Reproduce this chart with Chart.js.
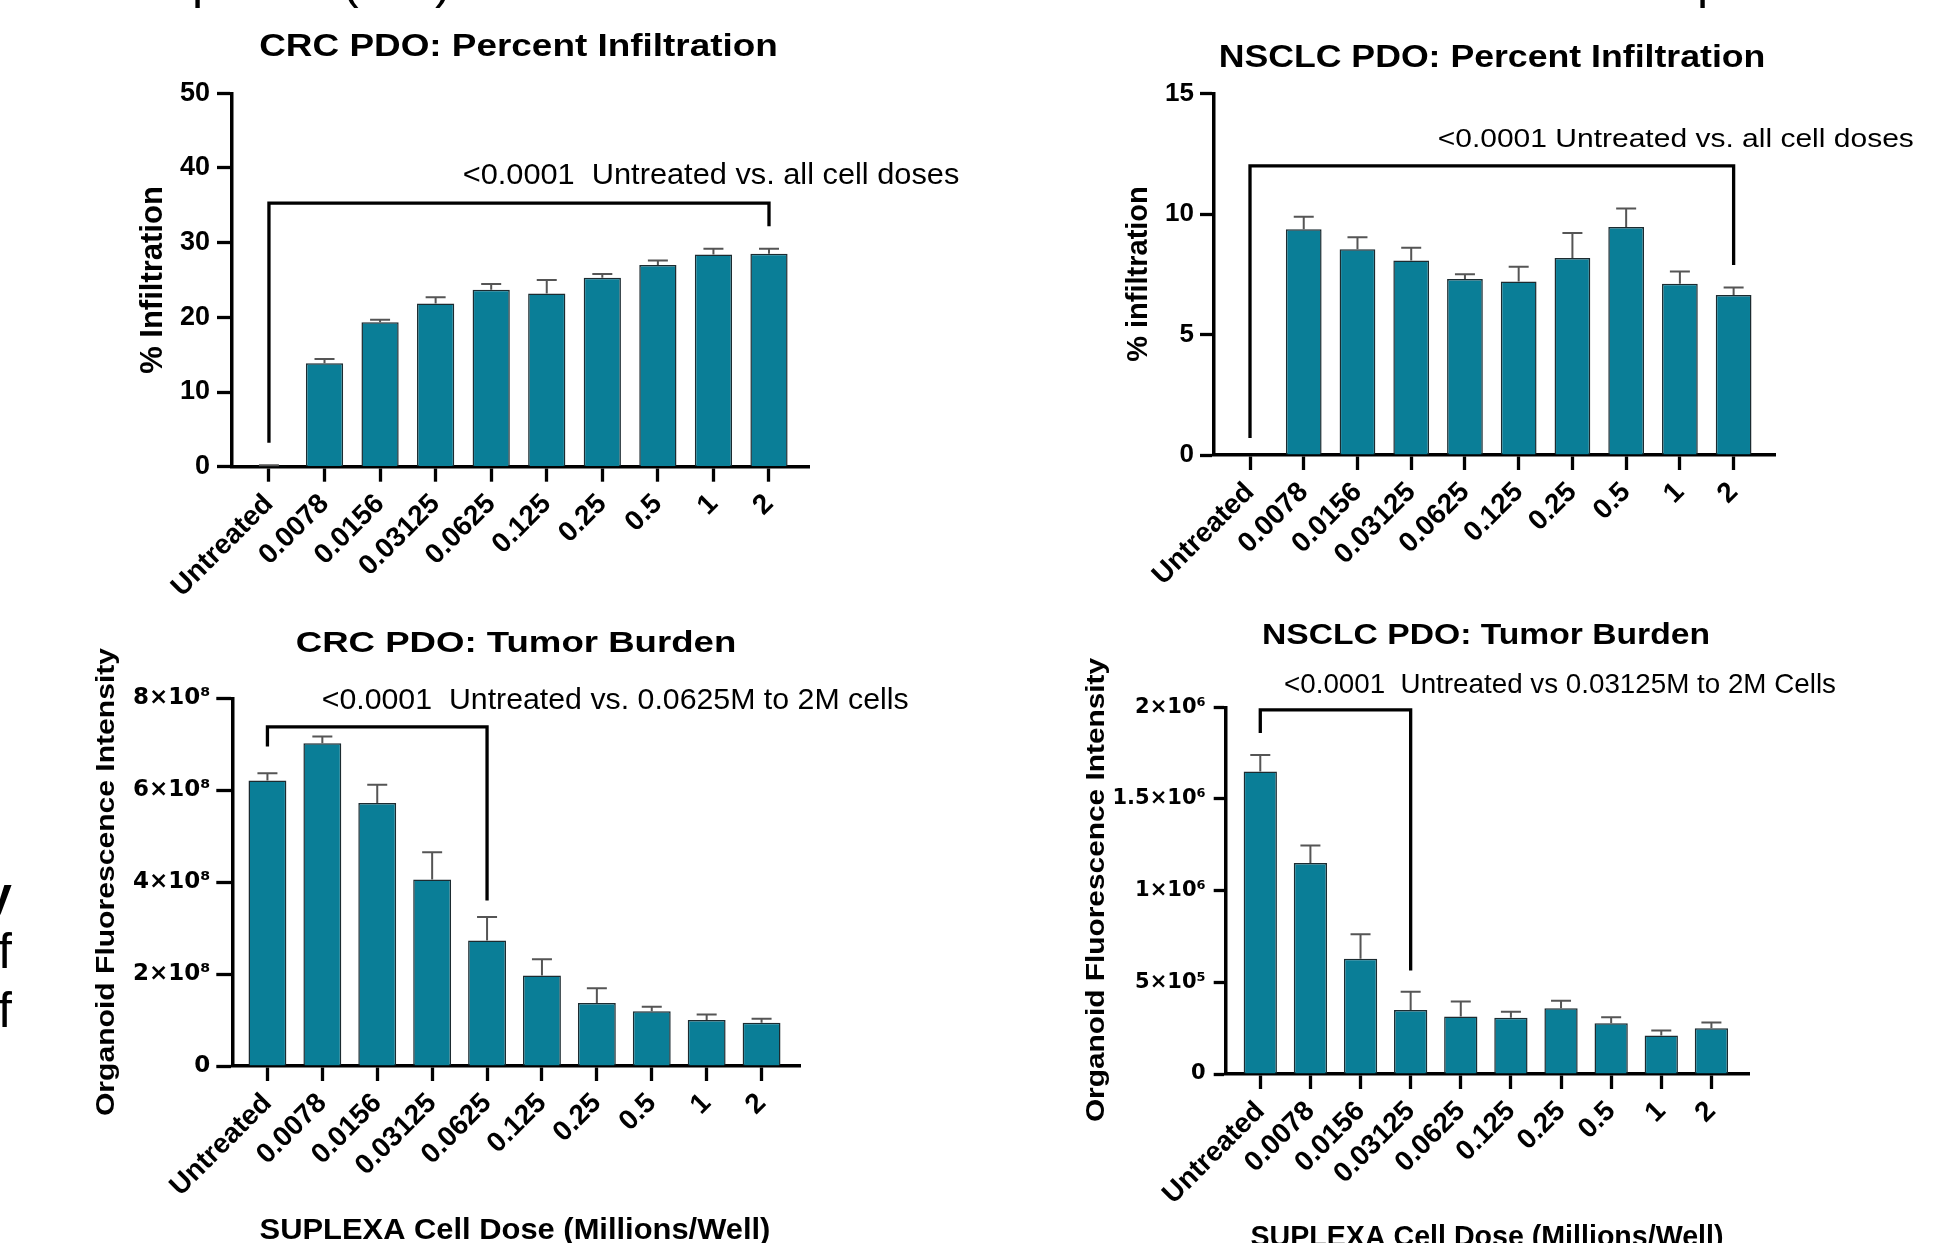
<!DOCTYPE html>
<html>
<head>
<meta charset="utf-8">
<script src="https://cdn.jsdelivr.net/npm/chart.js@4.4.1/dist/chart.umd.min.js"></script>
<style>
html,body{margin:0;padding:0;background:#fff;width:1955px;height:1243px;overflow:hidden;position:relative;}
canvas{position:absolute;left:0;top:0;}
.frag{position:absolute;font-family:"Liberation Sans",Arial,sans-serif;font-size:50px;line-height:50px;color:#000;white-space:pre;}
</style>
</head>
<body>
<div class="frag" style="left:192px;top:-44px">p</div>
<div class="frag" style="left:342px;top:-44px">(</div>
<div class="frag" style="left:435px;top:-44px">)</div>
<div class="frag" style="left:1697px;top:-44px">p</div>
<div class="frag" style="left:-16px;top:870px;font-weight:bold">y</div>
<div class="frag" style="left:-2px;top:926px">f</div>
<div class="frag" style="left:-2px;top:985px">f</div>

<canvas id="c1" width="1955" height="1243"></canvas>
<canvas id="c2" width="1955" height="1243"></canvas>
<canvas id="c3" width="1955" height="1243"></canvas>
<canvas id="c4" width="1955" height="1243"></canvas>

<script>
// ---------------- DATA ----------------
const doseLabels = ['Untreated', '0.0078', '0.0156', '0.03125', '0.0625', '0.125', '0.25', '0.5', '1', '2'];

// CRC PDO: Percent Infiltration (%)
const crcInfMean = [0.1, 13.85, 19.33, 21.85, 23.7, 23.2, 25.3, 27.0, 28.4, 28.5];
const crcInfSem  = [0.1, 0.58, 0.36, 0.85, 0.76, 1.8, 0.5, 0.6, 0.8, 0.7];
const crcInfTicks = [0, 10, 20, 30, 40, 50];

// NSCLC PDO: Percent Infiltration (%)
const nscInfMean = [0, 9.37, 8.54, 8.07, 7.30, 7.20, 8.17, 9.46, 7.11, 6.64];
const nscInfSem  = [0, 0.52, 0.50, 0.53, 0.20, 0.61, 1.04, 0.77, 0.50, 0.31];
const nscInfTicks = [0, 5, 10, 15];

// CRC PDO: Tumor Burden (organoid fluorescence intensity)
const crcTbMean = [6.21e8, 7.02e8, 5.72e8, 4.06e8, 2.73e8, 1.97e8, 1.37e8, 1.19e8, 1.00e8, 0.94e8];
const crcTbSem  = [0.16e8, 0.15e8, 0.40e8, 0.59e8, 0.51e8, 0.35e8, 0.32e8, 0.10e8, 0.12e8, 0.09e8];
const crcTbTicks = [0, 2e8, 4e8, 6e8, 8e8];

// NSCLC PDO: Tumor Burden
const nscTbMean = [1.65e6, 1.151e6, 6.29e5, 3.49e5, 3.13e5, 3.07e5, 3.59e5, 2.77e5, 2.10e5, 2.50e5];
const nscTbSem  = [0.90e5, 0.95e5, 1.33e5, 1.00e5, 0.82e5, 0.33e5, 0.41e5, 0.33e5, 0.27e5, 0.31e5];
const nscTbTicks = [0, 5e5, 1e6, 1.5e6, 2e6];

// significance brackets (category index and value positions)
const crcInfBracket = {from: 0, to: 9, top: 35.3, leftEnd: 3.2, rightEnd: 32.2};
const nscInfBracket = {from: 0, to: 9, top: 12.0, leftEnd: 0.71, rightEnd: 7.88};
const crcTbBracket  = {from: 0, to: 4, top: 7.38e8, leftEnd: 6.95e8, rightEnd: 3.6e8};
const nscTbBracket  = {from: 0, to: 3, top: 1.986e6, leftEnd: 1.86e6, rightEnd: 5.64e5};

// ---------------- STYLE ----------------
const BAR_FILL = '#0a7e97';
const BAR_EDGE = '#1c2b30';
const ERR_COL = '#555555';
const LS = '"Liberation Sans", Arial, sans-serif';
const DJ = '"DejaVu Sans", sans-serif';

function sci(v, exp) {
  if (v === 0) return '0';
  const sup = {'0':'⁰','1':'¹','2':'²','3':'³','4':'⁴','5':'⁵','6':'⁶','7':'⁷','8':'⁸','9':'⁹'};
  let m = v / Math.pow(10, exp);
  let e = exp;
  if (m < 1) { m = m * 10; e = exp - 1; }
  m = Math.round(m * 100) / 100;
  return m + '×10' + String(e).split('').map(c => sup[c]).join('');
}

const extrasPlugin = {
  id: 'extras',
  afterDatasetsDraw(chart) {
    const cfg = chart.options.plugins.extras;
    const ctx = chart.ctx;
    const xs = chart.scales.x, ys = chart.scales.y;
    const meta = chart.getDatasetMeta(0);
    ctx.save();
    // error bars (upper only)
    ctx.strokeStyle = ERR_COL;
    ctx.lineWidth = 2;
    ctx.lineCap = 'butt';
    meta.data.forEach((bar, i) => {
      const s = cfg.sem[i];
      if (!s) return;
      const yTop = ys.getPixelForValue(cfg.mean[i] + s);
      ctx.beginPath();
      ctx.moveTo(bar.x, bar.y);
      ctx.lineTo(bar.x, yTop);
      ctx.moveTo(bar.x - cfg.cap / 2, yTop);
      ctx.lineTo(bar.x + cfg.cap / 2, yTop);
      ctx.stroke();
    });
    // bracket
    const b = cfg.bracket;
    const x0 = xs.getPixelForValue(b.from), x1 = xs.getPixelForValue(b.to);
    const yt = ys.getPixelForValue(b.top);
    ctx.strokeStyle = '#000';
    ctx.lineWidth = 3.3;
    ctx.lineJoin = 'miter';
    ctx.beginPath();
    ctx.moveTo(x0, ys.getPixelForValue(b.leftEnd));
    ctx.lineTo(x0, yt);
    ctx.lineTo(x1, yt);
    ctx.lineTo(x1, ys.getPixelForValue(b.rightEnd));
    ctx.stroke();
    // texts
    cfg.texts.forEach(t => {
      ctx.save();
      ctx.font = t.font;
      ctx.fillStyle = '#000';
      ctx.textAlign = t.align || 'left';
      ctx.textBaseline = 'alphabetic';
      ctx.translate(t.x, t.y);
      if (t.rot) ctx.rotate(t.rot);
      ctx.scale(t.sx || 1, 1);
      ctx.fillText(t.text, 0, 0);
      ctx.restore();
    });
    ctx.restore();
  }
};

function makeChart(id, o) {
  const data = doseLabels.map((_, i) => ({x: i, y: o.mean[i]}));
  return new Chart(document.getElementById(id), {
    type: 'bar',
    data: {
      datasets: [{
        data: data,
        backgroundColor: BAR_FILL,
        borderColor: BAR_EDGE,
        borderWidth: 1.5,
        categoryPercentage: 1,
        barPercentage: o.barPct
      }]
    },
    options: {
      responsive: false,
      animation: false,
      devicePixelRatio: 1,
      layout: {padding: o.padding},
      plugins: {
        legend: {display: false},
        tooltip: {enabled: false},
        extras: {mean: o.mean, sem: o.sem, bracket: o.bracket, cap: 20, texts: o.texts}
      },
      scales: {
        x: {
          type: 'linear',
          min: o.xmin, max: o.xmax,
          offset: false,
          bounds: 'data',
          afterBuildTicks(s) { s.ticks = doseLabels.map((_, i) => ({value: i})); },
          afterFit(s) { s.height = 140; },
          ticks: {
            autoSkip: false, minRotation: 45, maxRotation: 45, padding: 6,
            color: '#000',
            font: {family: LS, weight: 'bold', size: 28},
            callback: v => doseLabels[v]
          },
          grid: {display: true, drawOnChartArea: false, drawTicks: true, offset: false,
                 tickLength: 15, tickWidth: 3.3, tickColor: '#000'},
          border: {display: true, width: 3.5, color: '#000'}
        },
        y: {
          min: 0, max: o.yTicks[o.yTicks.length - 1],
          afterBuildTicks(s) { s.ticks = o.yTicks.map(v => ({value: v})); },
          afterFit(s) { s.width = 150; },
          ticks: {
            padding: o.yPad,
            color: '#000',
            font: o.yFont,
            callback: o.yFmt
          },
          grid: {display: true, drawOnChartArea: false, drawTicks: true,
                 tickLength: o.yTick, tickWidth: 3.3, tickColor: '#000'},
          border: {display: true, width: 3.5, color: '#000'}
        }
      }
    },
    plugins: [extrasPlugin]
  });
}

const W = 1955, H = 1243, XH = 140, YW = 150;
function pad(L, T, R, B) {
  return {left: L - YW, top: T, right: W - R, bottom: H - B - XH};
}

// Chart 1: CRC Percent Infiltration
makeChart('c1', {
  mean: crcInfMean, sem: crcInfSem, bracket: crcInfBracket, barPct: 0.67,
  xmin: -0.665, xmax: 9.72, yTicks: crcInfTicks,
  padding: pad(232, 93.3, 809, 466.7),
  yPad: 7, yTick: 15,
  yFont: {family: LS, weight: 'bold', size: 27},
  yFmt: v => String(v),
  texts: [
    {text: 'CRC PDO: Percent Infiltration', x: 518.5, y: 56, align: 'center', font: `bold 31px ${LS}`, sx: 1.19},
    {text: '<0.0001  Untreated vs. all cell doses', x: 462.7, y: 184, font: `30px ${LS}`, sx: 1.025},
    {text: '% Infiltration', x: 161.5, y: 280, align: 'center', rot: -Math.PI / 2, font: `bold 31px ${LS}`}
  ]
});

// Chart 2: NSCLC Percent Infiltration
makeChart('c2', {
  mean: nscInfMean, sem: nscInfSem, bracket: nscInfBracket, barPct: 0.665,
  xmin: -0.67, xmax: 9.77, yTicks: nscInfTicks,
  padding: pad(1214, 93.5, 1775, 455),
  yPad: 6, yTick: 14,
  yFont: {family: LS, weight: 'bold', size: 26},
  yFmt: v => String(v),
  texts: [
    {text: 'NSCLC PDO: Percent Infiltration', x: 1492, y: 66.5, align: 'center', font: `bold 31px ${LS}`, sx: 1.15},
    {text: '<0.0001 Untreated vs. all cell doses', x: 1437.7, y: 147, font: `25px ${LS}`, sx: 1.2},
    {text: '% infiltration', x: 1146.5, y: 274, align: 'center', rot: -Math.PI / 2, font: `bold 29px ${LS}`}
  ]
});

// Chart 3: CRC Tumor Burden
makeChart('c3', {
  mean: crcTbMean, sem: crcTbSem, bracket: crcTbBracket, barPct: 0.69,
  xmin: -0.64, xmax: 9.70, yTicks: crcTbTicks,
  padding: pad(232.3, 698.3, 800, 1066),
  yPad: 6, yTick: 16,
  yFont: {family: DJ, weight: 'bold', size: 23},
  yFmt: v => sci(v, 8),
  texts: [
    {text: 'CRC PDO: Tumor Burden', x: 516, y: 651.7, align: 'center', font: `bold 30px ${LS}`, sx: 1.22},
    {text: '<0.0001  Untreated vs. 0.0625M to 2M cells', x: 321.7, y: 709.3, font: `30px ${LS}`, sx: 1.01},
    {text: 'Organoid Fluorescence Intensity', x: 113.5, y: 882, align: 'center', rot: -Math.PI / 2, font: `bold 25.5px ${LS}`, sx: 1.18},
    {text: 'SUPLEXA Cell Dose (Millions/Well)', x: 515, y: 1239, align: 'center', font: `bold 28.6px ${LS}`, sx: 1.08}
  ]
});

// Chart 4: NSCLC Tumor Burden
makeChart('c4', {
  mean: nscTbMean, sem: nscTbSem, bracket: nscTbBracket, barPct: 0.664,
  xmin: -0.69, xmax: 9.75, yTicks: nscTbTicks,
  padding: pad(1225.7, 707.3, 1749, 1074),
  yPad: 8, yTick: 12,
  yFont: {family: DJ, weight: 'bold', size: 21},
  yFmt: v => sci(v, 6),
  texts: [
    {text: 'NSCLC PDO: Tumor Burden', x: 1486, y: 644, align: 'center', font: `bold 29px ${LS}`, sx: 1.16},
    {text: '<0.0001  Untreated vs 0.03125M to 2M Cells', x: 1284, y: 692.7, font: `27.5px ${LS}`, sx: 1.01},
    {text: 'Organoid Fluorescence Intensity', x: 1104, y: 890, align: 'center', rot: -Math.PI / 2, font: `bold 25.5px ${LS}`, sx: 1.17},
    {text: 'SUPLEXA Cell Dose (Millions/Well)', x: 1487, y: 1246, align: 'center', font: `bold 28.6px ${LS}`}
  ]
});
</script>
</body>
</html>
